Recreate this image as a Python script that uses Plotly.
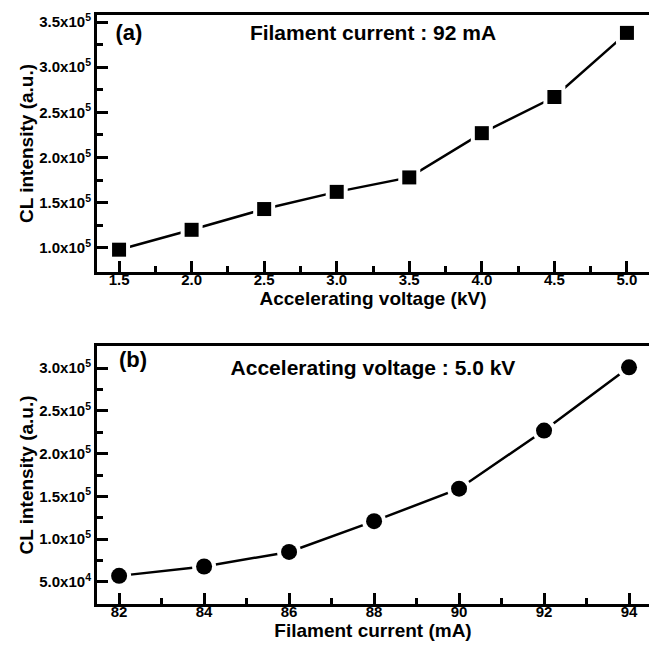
import plotly.graph_objects as go

# Panel (a): CL intensity vs accelerating voltage at 92 mA filament current
voltage_kv = [1.5, 2.0, 2.5, 3.0, 3.5, 4.0, 4.5, 5.0]
cl_vs_voltage = [0.98e5, 1.20e5, 1.43e5, 1.62e5, 1.78e5, 2.27e5, 2.67e5, 3.38e5]

# Panel (b): CL intensity vs filament current at 5.0 kV
current_ma = [82, 84, 86, 88, 90, 92, 94]
cl_vs_current = [0.57e5, 0.68e5, 0.85e5, 1.21e5, 1.59e5, 2.27e5, 3.01e5]

# Tick values and labels
xa_ticks = [1.5, 2.0, 2.5, 3.0, 3.5, 4.0, 4.5, 5.0]
xa_text = ["1.5", "2.0", "2.5", "3.0", "3.5", "4.0", "4.5", "5.0"]
ya_ticks = [1.0e5, 1.5e5, 2.0e5, 2.5e5, 3.0e5, 3.5e5]
ya_text = ["1.0x10<sup>5</sup>", "1.5x10<sup>5</sup>", "2.0x10<sup>5</sup>",
           "2.5x10<sup>5</sup>", "3.0x10<sup>5</sup>", "3.5x10<sup>5</sup>"]
xb_ticks = [82, 84, 86, 88, 90, 92, 94]
xb_text = ["82", "84", "86", "88", "90", "92", "94"]
yb_ticks = [0.5e5, 1.0e5, 1.5e5, 2.0e5, 2.5e5, 3.0e5]
yb_text = ["5.0x10<sup>4</sup>", "1.0x10<sup>5</sup>", "1.5x10<sup>5</sup>",
           "2.0x10<sup>5</sup>", "2.5x10<sup>5</sup>", "3.0x10<sup>5</sup>"]

W, H = 649, 650
FONT = "Arial, Liberation Sans, sans-serif"
LEFT = 97                      # left edge of both plot areas (px)
TOP_A, BOT_A = 15, 272         # panel (a) vertical extent (px)
TOP_B, BOT_B = 346, 604        # panel (b) vertical extent (px)
XR_A, YR_A = [1.348, 5.152], [0.733e5, 3.578e5]
XR_B, YR_B = [81.48, 94.47], [0.241e5, 3.259e5]


def mids(vals):
    return [(a + b) / 2 for a, b in zip(vals[:-1], vals[1:])]


def to_data(px, py, xr, yr, top, bot):
    """Convert a page position in pixels to data units of one panel."""
    x = xr[0] + (px - LEFT) / (W - LEFT) * (xr[1] - xr[0])
    y = yr[1] - (py - top) / (bot - top) * (yr[1] - yr[0])
    return x, y


fig = go.Figure()


def add_series(x, y, xa, ya, symbol, size):
    # connecting line, then a white halo so the line stops short of each marker
    fig.add_trace(go.Scatter(x=x, y=y, xaxis=xa, yaxis=ya, mode="lines",
                             line=dict(color="black", width=2.5),
                             showlegend=False, hoverinfo="skip"))
    fig.add_trace(go.Scatter(x=x, y=y, xaxis=xa, yaxis=ya, mode="markers",
                             marker=dict(symbol=symbol, size=size + 8, color="white"),
                             showlegend=False, hoverinfo="skip"))
    fig.add_trace(go.Scatter(x=x, y=y, xaxis=xa, yaxis=ya, mode="markers",
                             marker=dict(symbol=symbol, size=size, color="black"),
                             showlegend=False))


add_series(voltage_kv, cl_vs_voltage, "x", "y", "square", 14)
add_series(current_ma, cl_vs_current, "x2", "y2", "circle", 16)

# In-panel labels as text marks
labels_a = [("(a)", 129, 34, 22), ("Filament current : 92 mA", 373, 35, 21)]
labels_b = [("(b)", 133, 361, 22), ("Accelerating voltage : 5.0 kV", 373, 370, 21)]
for labels, xa, ya, xr, yr, top, bot in (
        (labels_a, "x", "y", XR_A, YR_A, TOP_A, BOT_A),
        (labels_b, "x2", "y2", XR_B, YR_B, TOP_B, BOT_B)):
    for txt, px, py, size in labels:
        lx, ly = to_data(px, py, xr, yr, top, bot)
        fig.add_trace(go.Scatter(
            x=[lx], y=[ly], xaxis=xa, yaxis=ya, mode="text", text=[txt],
            textposition="middle center", cliponaxis=False,
            textfont=dict(family=FONT, size=size, color="black", weight="bold"),
            showlegend=False, hoverinfo="skip"))

tick_font = dict(family=FONT, size=15, color="black", weight="bold")
title_font = dict(family=FONT, size=19, color="black", weight="bold")


def axis_style(ticks, text, standoff):
    return dict(
        tickmode="array", tickvals=ticks, ticktext=text,
        ticks="inside", ticklen=11, tickwidth=2.5, tickcolor="black",
        showline=True, linewidth=3, linecolor="black",
        showgrid=False, zeroline=False, tickfont=tick_font,
        ticklabelstandoff=standoff,
        minor=dict(tickmode="array", tickvals=mids(ticks), ticks="inside",
                   ticklen=6, tickwidth=2.5, tickcolor="black", showgrid=False),
    )


ytitle = dict(text="CL intensity (a.u.)", font=title_font)

fig.update_layout(
    template="none",
    width=W, height=H,
    margin=dict(l=0, r=0, t=0, b=0),
    xaxis=dict(domain=[LEFT / W, 1], range=XR_A, anchor="y", mirror=True,
               title=dict(text="Accelerating voltage (kV)", font=title_font,
                          standoff=2),
               **axis_style(xa_ticks, xa_text, -8)),
    yaxis=dict(domain=[1 - BOT_A / H, 1 - TOP_A / H], range=YR_A, anchor="x",
               title=ytitle, **axis_style(ya_ticks, ya_text, 0)),
    xaxis2=dict(domain=[LEFT / W, 1], range=XR_B, anchor="y2", mirror=True,
                title=dict(text="Filament current (mA)", font=title_font,
                           standoff=2),
                **axis_style(xb_ticks, xb_text, -8)),
    yaxis2=dict(domain=[1 - BOT_B / H, 1 - TOP_B / H], range=YR_B, anchor="x2",
                title=ytitle, **axis_style(yb_ticks, yb_text, 0)),
)

fig.write_html("out.html", config=dict(displayModeBar=False))
